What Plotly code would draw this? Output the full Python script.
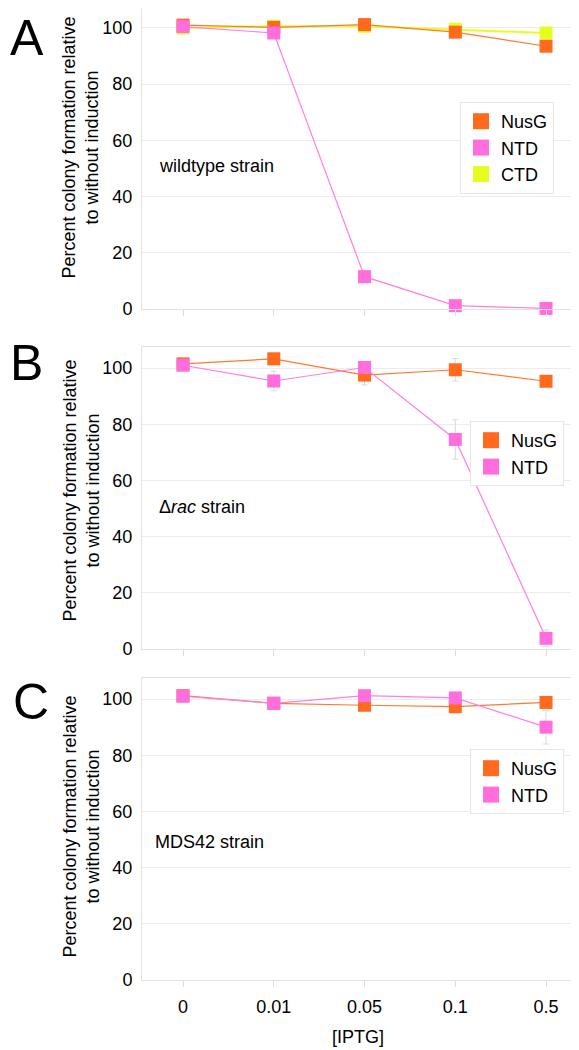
import plotly.graph_objects as go

# ---------------- data ----------------
iptg = ["0", "0.01", "0.05", "0.1", "0.5"]

a_nusg = [101.0, 100.2, 101.2, 98.5, 93.5]
a_ntd = [100.5, 98.2, 11.5, 1.2, 0.2]
a_ctd = [100.0, 100.6, 100.6, 99.5, 98.2]
a_nusg_err = [1.0, 1.0, 1.5, 2.0, 2.0]
a_ntd_err = [1.0, 1.5, 1.0, 0.5, 0.5]
a_ctd_err = [1.0, 1.0, 1.0, 1.5, 2.0]

b_nusg = [101.5, 103.3, 97.5, 99.4, 95.3]
b_ntd = [101.0, 95.4, 100.2, 74.6, 3.8]
b_nusg_err = [1.0, 1.5, 3.5, 4.0, 2.0]
b_ntd_err = [1.0, 3.5, 2.0, 7.0, 3.0]

c_nusg = [101.2, 98.5, 97.8, 97.3, 98.8]
c_ntd = [101.0, 98.5, 101.2, 100.4, 90.0]
c_nusg_err = [1.0, 1.0, 2.0, 2.0, 2.0]
c_ntd_err = [1.0, 1.0, 2.0, 2.0, 6.0]

y_ticks = [0, 20, 40, 60, 80, 100]
strain_labels = ["wildtype strain", "\u0394<i>rac</i> strain", "MDS42 strain"]
panel_letters = ["A", "B", "C"]
y_title = "Percent colony formation relative<br>to without induction"
x_title = "[IPTG]"

ORANGE = "#FF6A1E"
PINK = "#FF6EDC"
YELLOW = "#E4FF1E"
ORANGE_L = "#FF7A30"
PINK_L = "#FF7FE2"
ERR = "#d9d9d9"

# page body has an 8px margin; figure sized to fit the window
OFF = 8
W, H = 579 - OFF, 1050 - OFF
FONT = "Liberation Sans, Arial, sans-serif"


def px_x(x):
    return min(1.0, max(0.0, (x - OFF) / W))


def px_y(y):
    return min(1.0, max(0.0, 1 - (y - OFF) / H))


fig = go.Figure()


def add_series(xa, ya, yvals, errs, color, lcolor, lwidth):
    fig.add_trace(go.Scatter(
        x=iptg, y=yvals, mode="lines+markers",
        xaxis=xa, yaxis=ya, showlegend=False, cliponaxis=False,
        line=dict(color=lcolor, width=lwidth),
        marker=dict(symbol="square", size=13, color=color, line=dict(width=0)),
        error_y=dict(type="data", array=errs, visible=True, color=ERR,
                     thickness=1, width=3),
    ))


def add_legend_entry(name, color, legend):
    fig.add_trace(go.Scatter(
        x=[None], y=[None], mode="markers", name=name, legend=legend,
        marker=dict(symbol="square", size=16, color=color),
        xaxis="x", yaxis="y",
    ))


# panel A
add_series("x", "y", a_ctd, a_ctd_err, YELLOW, YELLOW, 2)
add_series("x", "y", a_nusg, a_nusg_err, ORANGE, ORANGE_L, 1.2)
add_series("x", "y", a_ntd, a_ntd_err, PINK, PINK_L, 1.2)
# panel B
add_series("x2", "y2", b_nusg, b_nusg_err, ORANGE, ORANGE_L, 1.2)
add_series("x2", "y2", b_ntd, b_ntd_err, PINK, PINK_L, 1.2)
# panel C
add_series("x3", "y3", c_nusg, c_nusg_err, ORANGE, ORANGE_L, 1.2)
add_series("x3", "y3", c_ntd, c_ntd_err, PINK, PINK_L, 1.2)

add_legend_entry("NusG", ORANGE, "legend")
add_legend_entry("NTD", PINK, "legend")
add_legend_entry("CTD", YELLOW, "legend")
add_legend_entry("NusG", ORANGE, "legend2")
add_legend_entry("NTD", PINK, "legend2")
add_legend_entry("NusG", ORANGE, "legend3")
add_legend_entry("NTD", PINK, "legend3")

# panel geometry (pixels in the reference): top, bottom(y=0), y-range top
x_left, x_right = 142, 571
panels = [
    (8, 309, 107.1),
    (347, 649, 107.5),
    (678, 980, 107.5),
]
xdom = [px_x(x_left), px_x(x_right)]

axis_common_x = dict(
    type="category", range=[-0.452, 4.275], showgrid=False,
    showline=True, mirror=True, linecolor="#e2e2e2", linewidth=1,
    ticks="outside", ticklen=6, tickcolor="#dcdcdc", tickwidth=1,
    zeroline=False, ticklabelstandoff=4,
    tickfont=dict(size=18, color="black", family=FONT),
)
axis_common_y = dict(
    tickvals=y_ticks, showgrid=True, gridcolor="#ececec",
    gridwidth=1, showline=True, mirror=True, linecolor="#e2e2e2",
    linewidth=1, ticks="", zeroline=False, ticklabelstandoff=5,
    tickfont=dict(size=18, color="black", family=FONT),
)

layout_axes = {}
for i, (top, bot, ytop) in enumerate(panels):
    sx = "" if i == 0 else str(i + 1)
    xa = dict(axis_common_x, domain=xdom, anchor="y" + sx,
              showticklabels=(i == 2))
    ya = dict(axis_common_y, range=[0, ytop],
              domain=[px_y(bot), px_y(top)], anchor="x" + sx)
    layout_axes["xaxis" + sx] = xa
    layout_axes["yaxis" + sx] = ya

fig.update_layout(**layout_axes)

annotations = []
# (left edge px, top edge px) of each panel letter box
letter_pos = [(8, 8), (8, 333), (11, 672)]
for (lx, ly), letter in zip(letter_pos, panel_letters):
    annotations.append(dict(
        text=letter, x=px_x(lx), y=px_y(ly), xref="paper", yref="paper",
        xanchor="left", yanchor="top", showarrow=False,
        font=dict(size=50, color="black", family=FONT)))

title_y = [148, 491, 827]
for ty in title_y:
    annotations.append(dict(
        text=y_title, x=px_x(80.5), y=px_y(ty), xref="paper", yref="paper",
        xanchor="center", yanchor="middle", showarrow=False, textangle=-90,
        font=dict(size=18, color="black", family=FONT)))

strain_pos = [(157, 166), (157, 507), (153, 842)]
for (sx_, sy_), lab in zip(strain_pos, strain_labels):
    annotations.append(dict(
        text=lab, x=px_x(sx_), y=px_y(sy_), xref="paper", yref="paper",
        xanchor="left", yanchor="middle", showarrow=False,
        font=dict(size=18, color="black", family=FONT)))

annotations.append(dict(
    text=x_title, x=px_x(358), y=px_y(1037), xref="paper", yref="paper",
    xanchor="center", yanchor="middle", showarrow=False,
    font=dict(size=18, color="black", family=FONT)))

legend_common = dict(
    xanchor="left", yanchor="top", bgcolor="white", bordercolor="#e6e6e6",
    borderwidth=1, font=dict(size=18, color="black", family=FONT),
    tracegroupgap=0, itemwidth=30,
)

fig.update_layout(
    width=W, height=H,
    margin=dict(l=0, r=0, t=0, b=0, autoexpand=False),
    paper_bgcolor="white", plot_bgcolor="white",
    font=dict(family=FONT, color="black"),
    annotations=annotations,
    legend=dict(legend_common, x=px_x(460), y=px_y(102)),
    legend2=dict(legend_common, x=px_x(470), y=px_y(421)),
    legend3=dict(legend_common, x=px_x(470), y=px_y(749)),
    showlegend=True,
)

fig.write_html("out.html")
